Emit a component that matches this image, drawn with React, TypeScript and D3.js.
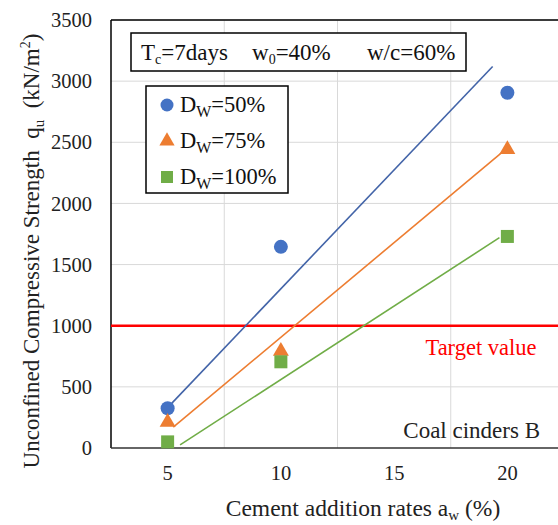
import React from "react";
import * as d3 from "d3";

const cementRates = [5, 10, 20];
const dw50 = [325, 1645, 2905];
const dw75 = [220, 800, 2450];
const dw100 = [50, 705, 1730];

const trend50X = [5, 19.35];
const trend50Y = [330, 3120];
const trend75X = [5.25, 19.75];
const trend75Y = [170, 2415];
const trend100X = [5.55, 19.65];
const trend100Y = [25, 1720];

const targetValue = 1000;
const yTicks = [0, 500, 1000, 1500, 2000, 2500, 3000, 3500];
const xTicks = [5, 10, 15, 20];
const xGrid = [7.5, 12.5, 17.5];

const W = 558;
const H = 525;
const left = 111;
const top = 20;
const bottom = 448;
const right = 564;

const FONT = "'Liberation Serif', 'Times New Roman', serif";

export default function App() {
  const x = d3.scaleLinear().domain([2.5, 22.5]).range([left, right]);
  const y = d3.scaleLinear().domain([0, 3500]).range([bottom, top]);
  const line = d3
    .line<[number, number]>()
    .x((d) => x(d[0]))
    .y((d) => y(d[1]));

  const blue = "#4472C4";
  const orange = "#ED7D31";
  const green = "#70AD47";

  const tri = d3.symbol().type(d3.symbolTriangle).size(110)();
  const triLegend = d3.symbol().type(d3.symbolTriangle).size(100)();

  const zip = (a: number[], b: number[]) => a.map((v, i) => [v, b[i]] as [number, number]);

  return (
    <svg
      width={W}
      height={H}
      style={{ position: "absolute", left: 0, top: 0, background: "#fff" }}
      fontFamily={FONT}
    >
      <rect x={0} y={0} width={W} height={H} fill="#fff" />
      {/* gridlines */}
      {yTicks.slice(1).map((t) => (
        <line key={"gy" + t} x1={left} x2={W} y1={y(t)} y2={y(t)} stroke="#D9D9D9" strokeWidth={1} />
      ))}
      {xGrid.map((t) => (
        <line key={"gx" + t} x1={x(t)} x2={x(t)} y1={top} y2={bottom} stroke="#D9D9D9" strokeWidth={1} />
      ))}
      {/* plot border */}
      <line x1={left} x2={W} y1={top} y2={top} stroke="#000" strokeWidth={1.5} />
      <line x1={left} x2={left} y1={top} y2={bottom} stroke="#000" strokeWidth={1.5} />
      <line x1={left} x2={W} y1={bottom} y2={bottom} stroke="#333" strokeWidth={1.5} />

      {/* target line */}
      <line x1={left} x2={W} y1={y(targetValue)} y2={y(targetValue)} stroke="#FF0000" strokeWidth={2.5} />

      {/* trend lines */}
      <path d={line(zip(trend50X, trend50Y)) || ""} fill="none" stroke="#4364A8" strokeWidth={1.6} />
      <path d={line(zip(trend75X, trend75Y)) || ""} fill="none" stroke={orange} strokeWidth={1.6} />
      <path d={line(zip(trend100X, trend100Y)) || ""} fill="none" stroke={green} strokeWidth={1.6} />

      {/* markers */}
      {cementRates.map((c, i) => (
        <circle key={"c" + i} cx={x(c)} cy={y(dw50[i])} r={7} fill={blue} />
      ))}
      {cementRates.map((c, i) => (
        <path key={"t" + i} d={tri || ""} transform={`translate(${x(c)},${y(dw75[i]) + 1})`} fill={orange} />
      ))}
      {cementRates.map((c, i) => (
        <rect key={"s" + i} x={x(c) - 6.5} y={y(dw100[i]) - 6.5} width={13} height={13} fill={green} />
      ))}

      {/* y tick labels */}
      {yTicks.map((t) => (
        <text key={"yl" + t} x={92} y={y(t)} dy="0.35em" textAnchor="end" fontSize={20.5} fill="#222">
          {t}
        </text>
      ))}
      {/* x tick labels */}
      {xTicks.map((t) => (
        <text key={"xl" + t} x={x(t)} y={480} textAnchor="middle" fontSize={20.5} fill="#222">
          {t}
        </text>
      ))}

      {/* axis titles */}
      <text
        transform={`translate(39,251) rotate(-90)`}
        textAnchor="middle"
        fontSize={23}
        fill="#222"
      >
        Unconfined Compressive Strength{"\u00A0\u00A0"}q
        <tspan fontSize={15} dy={5}>u</tspan>
        <tspan dy={-5}>{"\u00A0\u00A0"}(kN/m</tspan>
        <tspan fontSize={14} dy={-9}>2</tspan>
        <tspan dy={9}>)</tspan>
      </text>
      <text x={363} y={516} textAnchor="middle" fontSize={23.5} fill="#222">
        Cement addition rates a
        <tspan fontSize={15} dy={4}>w</tspan>
        <tspan dy={-4}> (%)</tspan>
      </text>

      {/* annotation texts */}
      <text x={481} y={355} textAnchor="middle" fontSize={22.5} fill="#FF0000">
        Target value
      </text>
      <text x={540} y={438} textAnchor="end" fontSize={23} fill="#222">
        Coal cinders B
      </text>

      {/* condition box */}
      <rect x={131} y={33} width={335} height={38} fill="#fff" stroke="#000" strokeWidth={1.5} />
      <text y={60} fontSize={23} fill="#111">
        <tspan x={141}>T</tspan>
        <tspan fontSize={14} dy={4}>c</tspan>
        <tspan dy={-4}>=7days</tspan>
        <tspan x={252}>w</tspan>
        <tspan fontSize={14} dy={4}>0</tspan>
        <tspan dy={-4}>=40%</tspan>
        <tspan x={367}>w/c=60%</tspan>
      </text>

      {/* legend */}
      <rect x={146} y={86} width={142} height={107} fill="#fff" stroke="#000" strokeWidth={1.5} />
      <circle cx={167} cy={105} r={6.5} fill={blue} />
      <path d={triLegend || ""} transform="translate(167,141)" fill={orange} />
      <rect x={161} y={171} width={12} height={12} fill={green} />
      {[
        { yy: 112, v: "=50%" },
        { yy: 148, v: "=75%" },
        { yy: 184, v: "=100%" },
      ].map((e) => (
        <text key={e.v} x={180} y={e.yy} fontSize={22.5} fill="#111">
          D<tspan fontSize={16} dy={5}>W</tspan>
          <tspan dy={-5}>{e.v}</tspan>
        </text>
      ))}
    </svg>
  );
}
